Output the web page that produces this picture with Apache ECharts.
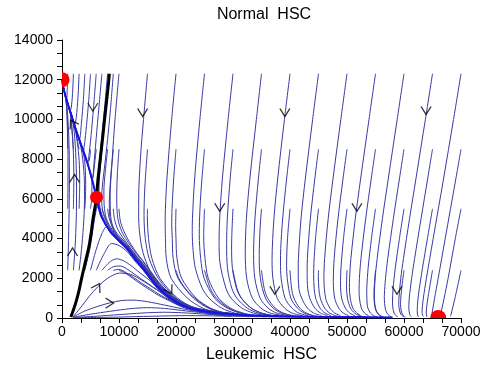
<!DOCTYPE html>
<html><head><meta charset="utf-8">
<script src="https://cdn.jsdelivr.net/npm/echarts@6/dist/echarts.min.js"></script>
<style>html,body{margin:0;padding:0;background:#fff}#c{width:484px;height:370px}</style>
</head><body><div id="c"></div>
<script>
// ---------- DATA ----------
const titleText = 'Normal  HSC';
const xName = 'Leukemic  HSC';
const xMin = 0, xMax = 70000, xStep = 10000;
const yMin = 0, yMax = 14000, yStep = 2000;

// equilibria: (0,12000) stable, saddle, (66000,0) stable
const equilibria = [[0,12000],[6060,6080],[66000,0]];

// separatrix (stable manifold of the saddle)
const separatrix = [[1550,50],[2000,400],[2550,900],[3000,1400],[3370,1910],[4000,2700],[4710,3570],[5100,4250],[5410,4925],[5800,5600],[6060,6080],[6300,6950],[6710,8000],[7100,9000],[7470,10000],[7850,11000],[8220,12000],[8300,12300]];

// unstable manifold branches of the saddle
const branchUp = [[6060,6080],[5300,6950],[4480,7790],[3700,8450],[3075,8945],[2300,9600],[1670,10200],[1000,10800],[440,11360],[100,11800],[0,12000]];
const branchDown = [[6060,6080],[6500,5500],[6950,5080],[8300,4420],[9800,3950],[11400,3500],[13000,2900],[14200,2500],[15500,2000],[17000,1500],[19000,1000],[21000,650],[23500,420],[27000,260],[32000,150],[38000,100],[45000,65],[52000,45],[58000,30]];

const rightRow1 = [
 [[15000,12300],[14300,10000],[13750,8000],[13450,6000],[13450,5100],[13650,4200],[14200,3300],[15400,2400],[16600,1900],[18000,1450],[19500,1000],[21000,720],[22600,500],[25400,250],[28000,120]],
 [[20000,12300],[19240,10000],[18400,7000],[18140,5500],[18100,4790],[18150,4000],[18300,3000],[19150,2000],[22000,1000],[24700,500],[27400,250],[30100,120]],
 [[25000,12300],[24190,10000],[23265,7000],[22885,5000],[22850,4300],[23000,3400],[23400,2500],[24600,1500],[25800,1000],[28000,500],[30300,250],[32600,120]],
 [[30000,12300],[29140,10000],[28130,7000],[27660,5000],[27560,3850],[27700,2800],[28760,1500],[29660,1000],[31560,500],[33560,250],[35860,120]],
 [[35000,12300],[34100,10000],[32950,7000],[32350,5000],[32150,3370],[32400,2000],[33400,1000],[34900,500],[36500,250],[38800,120]],
 [[40000,12300],[39025,10000],[37835,7000],[37180,5000],[36850,2900],[37000,2000],[37750,1000],[39050,500],[40350,250],[42150,120]],
 [[45000,12300],[43970,10000],[42685,7000],[41935,5000],[41475,3000],[41445,2450],[41550,1500],[42050,1000],[43050,500],[44150,250],[45550,120]],
 [[50000,12300],[48917,10000],[47537,7000],[46697,5000],[46077,3000],[45950,2000],[46250,1000],[47000,500],[47850,250],[48850,120]],
 [[55000,12300],[53860,10000],[52385,7000],[51455,5000],[50685,3000],[50450,2000],[50420,1550],[50570,1000],[51020,500],[51720,250],[52420,120]],
 [[60000,12300],[58804,10000],[57234,7000],[56210,5000],[55293,3000],[54938,2000],[54800,1120],[54880,700],[55100,400],[55500,200],[55950,100],[56400,50]],
 [[65000,12300],[63750,10000],[62085,7000],[60971,5000],[59907,3000],[59433,2000],[59113,1000],[59080,690],[59200,400],[59430,200],[59730,100],[60030,50]],
 [[70000,12300],[68690,10000],[66930,7000],[65120,4000],[63930,2000],[63395,1000],[63200,500],[63170,280],[63250,150],[63400,80]]
];
const rightRow2 = [
 [[15000,8500],[14620,7000],[14445,6000],[14390,5160],[14610,4000],[15290,3000],[16890,2000],[19990,1000],[22990,500],[25890,250],[28890,120]],
 [[20000,8500],[19590,7000],[19305,5500],[19250,4680],[19350,4000],[19500,3000],[20350,2000],[23050,1000],[25650,500],[28250,250],[30750,120]],
 [[25000,8500],[24545,7000],[24203,5500],[24080,4190],[24330,3000],[24930,2000],[26780,1000],[28980,500],[31280,250],[33580,120]],
 [[30000,8500],[29500,7000],[29000,5000],[28885,3710],[29035,2500],[29785,1500],[30685,1000],[32485,500],[34385,250],[36585,120]],
 [[35000,8500],[34450,7000],[33850,5000],[33610,3240],[33830,2000],[34760,1000],[36160,500],[37660,250],[39810,120]],
 [[40000,8500],[39400,7000],[38710,5000],[38375,3500],[38330,2770],[38450,2000],[39130,1000],[40330,500],[41530,250],[43230,120]],
 [[45000,8500],[44350,7000],[43570,5000],[43050,3000],[43010,2300],[43100,1500],[43460,1000],[44360,500],[45360,250],[46560,120]],
 [[50000,8500],[49295,7000],[48420,5000],[47750,3000],[47600,1840],[47840,1000],[48540,500],[49340,250],[50290,120]],
 [[55000,8500],[54245,7000],[53278,5000],[52453,3000],[52173,2000],[52120,1390],[52180,1000],[52520,500],[53070,250],[53770,120]],
 [[60000,8500],[59193,7000],[58133,5000],[57156,3000],[56756,2000],[56561,1200],[56550,950],[56700,500],[57000,250],[57400,120],[57800,60]],
 [[65000,8500],[64142,7000],[62992,5000],[61866,3000],[61341,2000],[60926,1000],[60844,515],[60944,250],[61094,120],[61300,60]],
 [[70000,8500],[69090,7000],[67230,4000],[66000,2000],[65370,1000],[65070,500],[64920,200],[64950,80]]
];
const rightRow3 = [
 [[15000,5500],[14980,5100],[15180,4000],[15780,3000],[17180,2000],[20280,1000],[23280,500],[26180,250],[28980,120]],
 [[20000,5500],[19940,4600],[20000,4000],[20170,3000],[20990,2000],[23540,1000],[26040,500],[28640,250],[31040,120]],
 [[25000,5500],[24860,4115],[25090,3000],[25660,2000],[27460,1000],[29560,500],[31760,250],[34060,120]],
 [[30000,5500],[29755,3625],[29895,2500],[30605,1500],[31455,1000],[33205,500],[35055,250],[37155,120]],
 [[35000,5500],[34750,4500],[34600,3140],[34800,2000],[35700,1000],[37050,500],[38500,250],[40550,120]],
 [[40000,5500],[39565,4000],[39400,2660],[39510,2000],[40150,1000],[41300,500],[42500,250],[44100,120]],
 [[45000,5500],[44475,4000],[44200,2800],[44150,2185],[44235,1500],[44500,1000],[45270,500],[46150,250],[47200,120]],
 [[50000,5500],[49383,4000],[48939,2500],[48860,1715],[49060,1000],[49710,500],[50460,250],[51360,120]],
 [[55000,5500],[54290,4000],[53700,2500],[53486,1600],[53460,1255],[53540,700],[53660,500],[54110,250],[54660,120],[55260,60]],
 [[60000,5500],[59200,4000],[58467,2500],[58087,1500],[57980,800],[58050,500],[58260,250],[58580,120],[58930,60]],
 [[65000,5500],[64109,4000],[63237,2500],[62697,1500],[62394,800],[62320,370],[62360,200],[62450,100],[62570,50]],
 [[70000,5500],[69000,4000],[67740,2000],[67040,1000],[66670,500],[66435,200],[66355,100]]
];
const rightRow4 = [
 [[15000,2400],[15800,2000],[17100,1500],[19050,1000],[20750,700],[22250,500],[24450,300],[27150,150],[29700,75]],
 [[20000,2400],[20500,2000],[21600,1500],[23300,1000],[25850,500],[28400,250],[30900,120],[33000,60]],
 [[25000,2400],[25990,1500],[27070,1000],[29220,500],[31380,250],[33550,120],[35650,60]],
 [[30000,2400],[30690,1500],[31490,1000],[33170,500],[34920,250],[36740,120],[38540,60]],
 [[35000,2400],[35470,1500],[36070,1000],[37400,500],[38830,250],[40330,120],[41830,60]],
 [[40000,2400],[40270,1500],[40690,1000],[41710,500],[42850,250],[44090,120],[45340,60]],
 [[45000,2400],[44975,2100],[45060,1500],[45315,1000],[46075,500],[46955,250],[47975,120],[48875,60]],
 [[50000,2400],[49910,1600],[50080,1000],[50610,500],[51310,250],[52110,120],[52910,60]],
 [[55000,2400],[54760,1500],[54735,1130],[54815,700],[55035,400],[55435,200],[55885,100],[56335,50]],
 [[60000,2400],[59590,1500],[59410,900],[59395,660],[59495,400],[59695,200],[59975,100],[60265,50]],
 [[65000,2400],[64190,1000],[63960,500],[63900,210],[63960,100],[64060,50]],
 [[70000,2400],[68940,1000],[68520,500],[68265,200],[68157,80]]
];

const leftRow1 = [
 [[1000,12300],[920,11500],[800,11000],[600,11100],[300,11550],[80,11850]],
 [[2000,12300],[1850,11300],[1600,10550],[1400,10450],[1000,10830],[440,11380],[110,11820]],
 [[3000,12300],[2800,11100],[2500,10100],[2200,9720],[1670,10220],[1000,10830],[440,11380],[110,11820]],
 [[4000,12300],[3750,11000],[3400,9800],[3050,9000],[2300,9630],[1670,10220],[1000,10830],[440,11380],[110,11820]],
 [[5000,12300],[4700,11000],[4300,9700],[3900,8650],[3700,8480],[3075,8970],[2300,9620],[1670,10220],[1000,10830],[440,11380],[110,11820]],
 [[6000,12300],[5650,11000],[5200,9500],[4750,8250],[4480,7820],[3700,8470],[3075,8965],[2300,9615],[1670,10215],[1000,10825],[440,11375],[110,11820]],
 [[7000,12300],[6600,11000],[6100,9400],[5650,7900],[5300,7000],[4480,7805],[3700,8460],[3075,8955],[2300,9610],[1670,10210],[1000,10815],[440,11370],[110,11815]],
 [[8000,12300],[7500,10700],[7000,9200],[6500,7700],[6200,6700],[5900,6300],[5300,6960],[4480,7800],[3700,8455],[3075,8950],[2300,9605],[1670,10205],[1000,10810],[440,11365],[110,11810]],
 [[9000,12300],[8500,10500],[8000,9000],[7500,7700],[7100,6700],[6950,6000],[7250,5250],[8300,4550],[9800,4040],[11400,3580],[13000,3020],[14200,2600],[15500,2100],[17000,1580],[19000,1060],[21000,700],[23500,450],[27000,280],[31000,170]],
 [[10000,12300],[9300,10000],[8800,8000],[8400,6500],[8300,5700],[8500,4900],[9300,4300],[11400,3650],[13000,3100],[14200,2700],[15500,2200],[17000,1650],[19000,1100],[21000,730],[23500,470],[27000,295],[30000,210]]
];
const leftRow2 = [
 [[1000,8500],[950,9500],[850,10500],[650,11050],[350,11500],[90,11850]],
 [[2000,8500],[1750,9500],[1450,10300],[1000,10820],[440,11380],[110,11820]],
 [[3000,8500],[2700,8950],[2300,9590],[1670,10200],[1000,10815],[440,11375],[110,11815]],
 [[4000,8500],[3750,8500],[3075,8965],[2300,9610],[1670,10210],[1000,10820],[440,11375],[110,11815]],
 [[5000,8500],[4800,7950],[4480,7830],[3700,8470],[3075,8965],[2300,9615],[1670,10215],[1000,10825],[440,11375],[110,11820]],
 [[6000,8500],[5700,7700],[5450,7100],[5300,6980],[4480,7810],[3700,8460],[3075,8960],[2300,9610],[1670,10210],[1000,10820],[440,11370],[110,11815]],
 [[7000,8500],[6700,7500],[6500,6600],[6600,5700],[7100,5100],[8300,4460],[9800,3990],[11400,3530],[13000,2960],[14200,2560],[15500,2060],[17000,1550],[19000,1040],[21000,680],[23500,440],[27000,275],[30000,200]],
 [[8000,8500],[7600,7400],[7350,6400],[7450,5500],[8000,4850],[9800,4060],[11400,3600],[13000,3040],[14200,2640],[15500,2140],[17000,1620],[19000,1080],[21000,710],[23500,455],[27000,285],[30000,205]],
 [[9000,8500],[8650,7300],[8450,6200],[8550,5100],[9200,4450],[11400,3700],[13000,3120],[14200,2720],[15500,2220],[17000,1680],[19000,1120],[21000,740],[23500,470],[27000,300],[30000,215]],
 [[10000,8500],[9700,7200],[9600,6000],[9800,5000],[10500,4350],[11400,3900],[13000,3250],[14200,2850],[15500,2330],[17000,1760],[19000,1180],[21000,780],[23500,500],[27000,320],[30000,230]]
];
const leftRow3 = [
 [[1000,5500],[1050,7000],[1050,8500],[950,9700],[820,10600],[600,11150],[320,11520],[90,11850]],
 [[2000,5500],[2080,7000],[2000,8300],[1800,9300],[1500,10250],[1000,10800],[440,11370],[110,11815]],
 [[3000,5500],[3100,6800],[3050,7700],[2800,8600],[2300,9520],[1670,10170],[1000,10800],[440,11365],[110,11815]],
 [[4000,5500],[4150,6500],[4100,7400],[3850,8150],[3075,8900],[2300,9570],[1670,10190],[1000,10805],[440,11365],[110,11815]],
 [[5000,5500],[5250,6200],[5250,6850],[4480,7760],[3700,8420],[3075,8920],[2300,9585],[1670,10195],[1000,10805],[440,11365],[110,11815]],
 [[6000,5500],[6350,5700],[6900,5230],[8300,4440],[9800,3970],[11400,3520],[13000,2930],[14200,2530],[15500,2030],[17000,1520],[19000,1020],[21000,665],[23500,430],[27000,268],[31000,170]],
 [[7000,5500],[7600,5050],[8400,4550],[9800,4010],[11400,3550],[13000,2980],[14200,2580],[15500,2080],[17000,1570],[19000,1050],[21000,690],[23500,445],[27000,280],[31000,175]],
 [[8000,5500],[8300,5000],[9000,4500],[9800,4120],[11400,3620],[13000,3060],[14200,2660],[15500,2160],[17000,1640],[19000,1090],[21000,720],[23500,460],[27000,290],[31000,180]],
 [[9000,5500],[9200,5000],[9800,4450],[11400,3760],[13000,3150],[14200,2750],[15500,2250],[17000,1700],[19000,1130],[21000,750],[23500,480],[27000,305],[31000,185]],
 [[10000,5500],[10300,4800],[11400,4050],[13000,3320],[14200,2880],[15500,2380],[17000,1800],[19000,1200],[21000,790],[23500,510],[27000,325],[31000,195]]
];
const leftRow4 = [
 [[1000,2400],[1150,4000],[1250,5500],[1300,7000],[1250,8500],[1100,9700],[880,10600],[650,11100],[350,11500],[100,11850]],
 [[2000,2400],[2300,3600],[2500,5000],[2550,6500],[2450,8000],[2150,9350],[1670,10160],[1000,10790],[440,11360],[110,11810]],
 [[3000,2400],[3400,3400],[3750,4600],[3950,5900],[3900,7100],[3500,8300],[3075,8880],[2300,9570],[1670,10180],[1000,10795],[440,11360],[110,11810]],
 [[4000,2400],[4900,3500],[5500,4600],[5900,5300],[6300,5650],[6800,5200],[8300,4400],[9800,3930],[11400,3480],[13000,2880],[14200,2480],[15500,1985],[17000,1490],[19000,990],[21000,645],[23500,415],[27000,258],[31000,150]],
 [[5000,2400],[6000,3450],[7000,4250],[7800,4600],[8600,4250],[9800,3900],[11400,3450],[13000,2860],[14200,2460],[15500,1970],[17000,1470],[19000,980],[21000,640],[23500,410],[27000,255],[31000,155]],
 [[6000,2400],[7500,3300],[8700,3750],[10000,3650],[11400,3350],[13000,2800],[14200,2420],[15500,1940],[17000,1450],[19000,965],[21000,630],[23500,405],[27000,250],[31000,150]],
 [[7000,2400],[8500,2850],[9600,2980],[11000,2850],[12500,2550],[14000,2200],[15500,1870],[17000,1400],[19000,940],[21000,615],[23500,395],[27000,245],[31000,145]],
 [[8000,2400],[9000,2580],[10200,2620],[11500,2450],[13000,2150],[14500,1850],[16000,1550],[17500,1250],[19000,910],[21000,600],[23500,385],[27000,240],[31000,140]],
 [[9000,2400],[9900,2450],[11000,2330],[12500,2050],[14000,1750],[15500,1480],[17000,1200],[19000,880],[21000,585],[23500,375],[27000,235],[31000,135]],
 [[10000,2400],[11000,2280],[12500,1980],[14000,1680],[15500,1400],[17000,1130],[19000,840],[21000,565],[23500,365],[27000,228],[31000,130]]
];
const fanLines = [
 [[1900,50],[3200,500],[4800,1100],[6240,1560],[8000,2000],[10100,2260],[12000,2200],[14000,1900],[16500,1450],[19000,980],[22000,600],[25000,380],[29000,225],[33000,135]],
 [[1900,50],[4000,350],[6000,560],[8350,760],[10500,880],[12500,900],[15000,820],[18000,650],[21000,470],[24000,320],[28000,200],[32000,130]],
 [[1950,40],[5000,190],[8500,340],[12000,470],[15000,520],[18000,480],[21000,380],[24500,270],[28000,185],[33000,110]],
 [[2000,25],[6000,90],[10000,170],[14000,250],[18000,290],[22000,250],[26000,180],[30000,125],[36000,75],[42000,45]],
 [[2500,15],[9000,40],[16000,90],[22000,120],[28000,100],[34000,70],[42000,40],[52000,20]]
];

// direction arrowheads (position on trajectory)
const arrowPts = [[5410,10620],[14150,10350],[39100,10350],[63870,10450],[27670,5580],[51740,5580],[37340,1400],[58770,1400],[18890,1400],[1850,9800],[2200,7030],[1850,3320],[6240,1560],[8350,750]];
const arrowDirDeg = [-90,-90,-90,-90,-90,-90,-90,-90,-60,120,90,90,60,0]; // flow direction angle (math convention)

// ---------- STYLE / RENDER ----------
const THIN = '#3a3aa4';
const FONT = 'Liberation Sans, Arial, sans-serif';
const dotR = [7.5, 6.5, 8];

function lineSer(pts, color, width, z) {
  return {type:'line', data:pts, showSymbol:false, symbol:'none', smooth:0.3,
    lineStyle:{color:color, width:width}, silent:true, z:z, animation:false, clip:true};
}
const series = [];
[rightRow1,rightRow2,rightRow3,rightRow4,leftRow1,leftRow2,leftRow3,leftRow4,fanLines].forEach(g =>
  g.forEach(p => series.push(lineSer(p, THIN, 1, 2))));
series.push(lineSer(branchUp, '#1414e6', 2, 3));
series.push(lineSer(branchDown, '#1414e6', 2, 3));
series.push(lineSer(separatrix, '#000000', 3, 4));
series.push({
  type:'custom', coordinateSystem:'cartesian2d', clip:true, z:5, silent:true, animation:false,
  data: equilibria,
  renderItem: (params, api) => {
    const p = api.coord([api.value(0), api.value(1)]);
    return {type:'circle', shape:{cx:p[0], cy:p[1], r:dotR[params.dataIndex]}, style:{fill:'#ff0000'}};
  }
});
series.push({
  type:'scatter', z:6, silent:true, animation:false,
  symbol:'path://M0,0 L5,8 L10,0', symbolSize:[10,8], symbolKeepAspect:false,
  data: arrowPts.map((p,i) => ({value:p, symbolRotate: arrowDirDeg[i] + 90})),
  itemStyle:{color:'rgba(0,0,0,0)', borderColor:'#000', borderWidth:1.2}
});

const plain = v => String(v);
const axisCommon = {
  axisLine:{show:true, onZero:false, lineStyle:{color:'#000', width:1}},
  axisTick:{show:true, inside:false, length:5, lineStyle:{color:'#000'}},
  minorTick:{show:true, splitNumber:3, length:5, lineStyle:{color:'#000'}},
  splitLine:{show:false}, minorSplitLine:{show:false},
};
const chart = echarts.init(document.getElementById('c'), null, {renderer:'canvas'});
chart.setOption({
  animation:false,
  backgroundColor:'#fff',
  grid:{left:62, right:23, top:40, bottom:52, containLabel:false},
  xAxis: Object.assign({type:'value', min:xMin, max:xMax, interval:xStep,
    name:xName, nameLocation:'middle', nameGap:29,
    nameTextStyle:{color:'#000', fontSize:16, fontFamily:FONT},
    axisLabel:{color:'#000', fontSize:14, fontFamily:FONT, margin:7, formatter:plain}}, axisCommon),
  yAxis: Object.assign({type:'value', min:yMin, max:yMax, interval:yStep,
    axisLabel:{color:'#000', fontSize:14, fontFamily:FONT, margin:9, formatter:plain}}, axisCommon),
  graphic:[{type:'text', x:264, y:15, style:{text:titleText, fill:'#000',
    font:'16px ' + FONT, textAlign:'center', textVerticalAlign:'middle'}}],
  series: series
});
</script></body></html>
